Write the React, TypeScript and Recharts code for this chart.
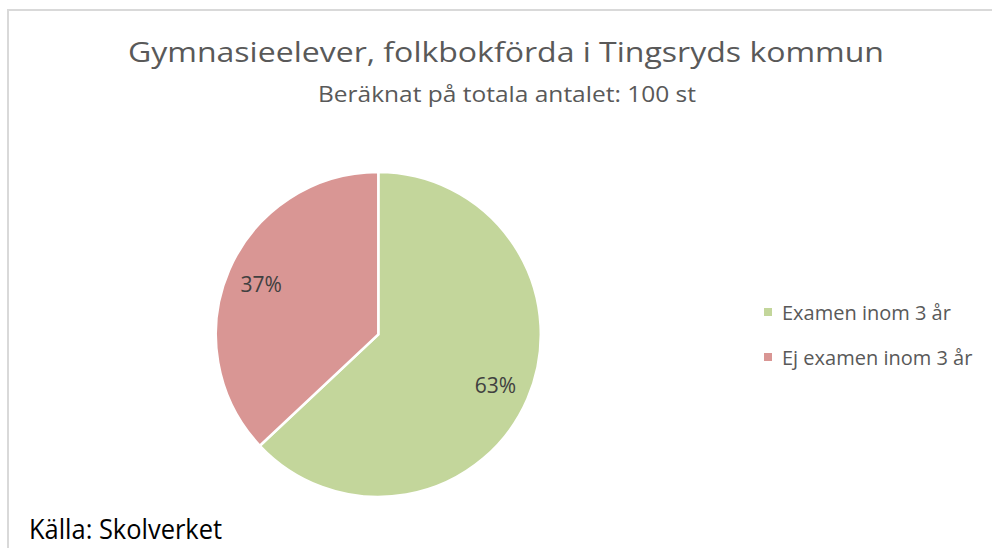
import React from "react";
import { PieChart, Pie, Cell, Legend } from "recharts";

const categories = ["Examen inom 3 år", "Ej examen inom 3 år"];
const values = [63, 37];
const colors = ["#C3D69B", "#D99694"];
const titleText = "Gymnasieelever, folkbokförda i Tingsryds kommun";
const subtitleText = "Beräknat på totala antalet: 100 st";
const sourceText = "Källa: Skolverket";

const data = categories.map((name, i) => ({ name, value: values[i] }));

const FONT = "'Open Sans', 'Noto Sans', sans-serif";
const RAD = Math.PI / 180;

const renderLabel = (props: any) => {
  const { cx, cy, midAngle, outerRadius, percent } = props;
  const r = outerRadius * 0.785;
  const x = cx + r * Math.cos(-midAngle * RAD);
  const y = cy + r * Math.sin(-midAngle * RAD);
  return (
    <text
      x={x}
      y={y}
      textAnchor="middle"
      dominantBaseline="central"
      fill="#404040"
      fontFamily={FONT}
      fontSize={21}
    >
      {`${Math.round(percent * 100)}%`}
    </text>
  );
};

const renderLegend = (props: any) => {
  const payload = [...(props.payload || [])].sort(
    (a: any, b: any) => categories.indexOf(a.value) - categories.indexOf(b.value)
  );
  return (
    <div style={{ fontFamily: FONT }}>
      {payload.map((entry: any, i: number) => (
        <div
          key={i}
          style={{ height: 45, display: "flex", alignItems: "center" }}
        >
          <span
            style={{
              display: "inline-block",
              width: 8,
              height: 8,
              background: entry.color,
              marginRight: 10,
            }}
          />
          <span style={{ fontSize: 20, color: "#595959", lineHeight: "27px" }}>
            {entry.value}
          </span>
        </div>
      ))}
    </div>
  );
};

export default function App() {
  return (
    <div
      style={{
        position: "relative",
        width: 992,
        height: 548,
        overflow: "hidden",
        background: "#fff",
      }}
    >
      <style>{`body{margin:0;}`}</style>
      <div
        style={{
          position: "absolute",
          left: 7,
          top: 9,
          width: 2000,
          height: 2000,
          borderTop: "2px solid #D9D9D9",
          borderLeft: "2px solid #D9D9D9",
        }}
      />
      <div style={{ position: "absolute", left: 0, top: 0 }}>
        <PieChart
          width={992}
          height={548}
          margin={{ top: 0, right: 0, bottom: 0, left: 0 }}
        >
          <text
            x={506}
            y={62}
            textAnchor="middle"
            fill="#595959"
            fontFamily={FONT}
            fontSize={28}
            textLength={756}
            lengthAdjust="spacingAndGlyphs"
          >
            {titleText}
          </text>
          <text
            x={507}
            y={101.7}
            textAnchor="middle"
            fill="#595959"
            fontFamily={FONT}
            fontSize={22}
            textLength={378}
            lengthAdjust="spacingAndGlyphs"
          >
            {subtitleText}
          </text>
          <text
            x={29}
            y={539.3}
            fill="#000000"
            fontFamily={FONT}
            fontSize={28}
            textLength={193}
            lengthAdjust="spacingAndGlyphs"
          >
            {sourceText}
          </text>
          <Pie
            data={data}
            dataKey="value"
            nameKey="name"
            cx={378.3}
            cy={334.5}
            outerRadius={162.5}
            startAngle={90}
            endAngle={-270}
            stroke="#FFFFFF"
            strokeWidth={2.5}
            label={renderLabel}
            labelLine={false}
            isAnimationActive={false}
          >
            {data.map((d, i) => (
              <Cell key={d.name} fill={colors[i]} />
            ))}
          </Pie>
          <Legend
            layout="vertical"
            align="right"
            verticalAlign="top"
            content={renderLegend}
            wrapperStyle={{ left: 764, top: 289.5, width: 228, right: "auto" }}
          />
        </PieChart>
      </div>
    </div>
  );
}
